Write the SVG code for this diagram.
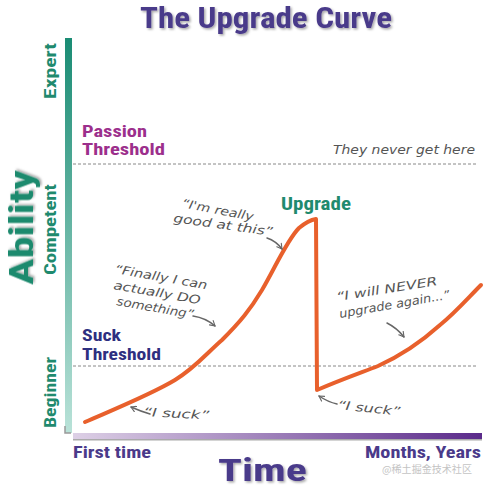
<svg xmlns="http://www.w3.org/2000/svg" width="486" height="488" viewBox="0 0 486 488">
<defs>
<linearGradient id="vbar" x1="0" y1="0" x2="0" y2="1">
<stop offset="0" stop-color="#1a8c74"/>
<stop offset="1" stop-color="#b9e2d8"/>
</linearGradient>
<linearGradient id="hbar" x1="0" y1="0" x2="1" y2="0">
<stop offset="0" stop-color="#ddd0e6"/>
<stop offset="1" stop-color="#5a2a8a"/>
</linearGradient>
<filter id="sh" x="-10%" y="-10%" width="120%" height="130%">
<feDropShadow dx="1.5" dy="1.5" stdDeviation="0.8" flood-color="#000" flood-opacity="0.35"/>
</filter>
<marker id="ah" viewBox="0 0 10 10" refX="8" refY="5" markerWidth="7" markerHeight="7" orient="auto" markerUnits="userSpaceOnUse">
<path d="M1,1 L8,5 L1,9" fill="none" stroke="#666" stroke-width="1.6" stroke-linecap="round" stroke-linejoin="round"/>
</marker>
<style>
.bold{font-family:"Liberation Sans Narrow","Roboto Condensed","Liberation Sans",Arial,sans-serif;font-weight:bold}
.teal{fill:#1f8a6e}
.purp{fill:#4a3a8a}
.hand{font-family:"DejaVu Sans","Liberation Sans",sans-serif;font-style:italic;font-size:12px;fill:#555}
.dash{stroke:#888;stroke-width:1;stroke-dasharray:3 2;fill:none}
.arr{stroke:#666;stroke-width:1.5;fill:none;stroke-linecap:round;marker-end:url(#ah)}
</style>
</defs>

<g id="title">
<text class="bold purp" x="140" y="28" font-size="30" textLength="252" lengthAdjust="spacingAndGlyphs" filter="url(#sh)">The Upgrade Curve</text>
</g>

<g id="axes">
<rect x="65" y="38" width="7" height="395" fill="url(#vbar)"/>
<path d="M65,426 L65,433 L71,433" fill="none" stroke="#999" stroke-width="1.5"/>
<rect x="73" y="433" width="409" height="6" fill="url(#hbar)"/>
<rect x="73" y="439" width="409" height="1.5" fill="#555" opacity="0.5"/>
</g>

<g id="y-labels">
<text class="bold teal" transform="translate(33,227.5) rotate(-90)" text-anchor="middle" font-size="34" textLength="115" lengthAdjust="spacingAndGlyphs" filter="url(#sh)">Ability</text>
<text class="bold teal" transform="translate(56,71) rotate(-90)" text-anchor="middle" font-size="17" textLength="56" lengthAdjust="spacingAndGlyphs">Expert</text>
<text class="bold teal" transform="translate(56,229.5) rotate(-90)" text-anchor="middle" font-size="17" textLength="91" lengthAdjust="spacingAndGlyphs">Competent</text>
<text class="bold teal" transform="translate(56,392.5) rotate(-90)" text-anchor="middle" font-size="17" textLength="71" lengthAdjust="spacingAndGlyphs">Beginner</text>
</g>

<g id="x-labels">
<text class="bold purp" x="73" y="458" font-size="17" textLength="78" lengthAdjust="spacingAndGlyphs">First time</text>
<text class="bold purp" x="365" y="458" font-size="17" textLength="116" lengthAdjust="spacingAndGlyphs">Months, Years</text>
<text class="bold purp" x="218" y="481" font-size="31" textLength="89" lengthAdjust="spacingAndGlyphs" filter="url(#sh)">Time</text>
</g>

<g id="passion-threshold">
<line class="dash" x1="73" y1="164" x2="478" y2="164"/>
<text class="bold" fill="#9c2f8c" x="82" y="137" font-size="17" textLength="65" lengthAdjust="spacingAndGlyphs">Passion</text>
<text class="bold" fill="#9c2f8c" x="82" y="155" font-size="17" textLength="83" lengthAdjust="spacingAndGlyphs">Threshold</text>
<text class="hand" x="333" y="154" textLength="142" lengthAdjust="spacingAndGlyphs">They never get here</text>
</g>

<g id="suck-threshold">
<line class="dash" x1="73" y1="366" x2="478" y2="366"/>
<text class="bold" fill="#2e2f80" x="82" y="341" font-size="17" textLength="39" lengthAdjust="spacingAndGlyphs">Suck</text>
<text class="bold" fill="#2e2f80" x="82" y="360" font-size="17" textLength="79" lengthAdjust="spacingAndGlyphs">Threshold</text>
</g>

<g id="curve">
<path d="M85,422 C110,411 150,395 175,380 C195,368 208,352 222,340 C240,322 250,310 262,290 C275,268 287,240 299,228 C305,223 310,220 316,219 L317,390 C340,380 360,373 378,366 C400,356 420,343 440,325 C455,313 468,298 481,285" fill="none" stroke="#e8602c" stroke-width="4" stroke-linejoin="round" stroke-linecap="round"/>
</g>

<g id="upgrade-label">
<text class="bold teal" x="281" y="210" font-size="18" textLength="70" lengthAdjust="spacingAndGlyphs">Upgrade</text>
</g>

<g id="connectors">
<path class="arr" d="M150,414 Q140,411 131,407"/>
<path class="arr" d="M337,404 Q328,402 319,396"/>
<path class="arr" d="M267,238 Q276,241 282,249"/>
<path class="arr" d="M193,316 Q206,318 215,326"/>
<path class="arr" d="M387,323 Q397,328 404,337"/>
</g>

<g id="annotations">
<text class="hand" transform="translate(181,207) rotate(11)" textLength="73" lengthAdjust="spacingAndGlyphs">“I'm really</text>
<text class="hand" transform="translate(173,222) rotate(8)" textLength="100" lengthAdjust="spacingAndGlyphs">good at this”</text>
<text class="hand" transform="translate(114,273) rotate(10)" textLength="94" lengthAdjust="spacingAndGlyphs">“Finally I can</text>
<text class="hand" transform="translate(113,289) rotate(10)" textLength="88" lengthAdjust="spacingAndGlyphs">actually DO</text>
<text class="hand" transform="translate(116,305) rotate(10)" textLength="78" lengthAdjust="spacingAndGlyphs">something”</text>
<text class="hand" transform="translate(143,416) rotate(3)" textLength="66" lengthAdjust="spacingAndGlyphs">“I suck”</text>
<text class="hand" transform="translate(337,409) rotate(6)" textLength="63" lengthAdjust="spacingAndGlyphs">“I suck”</text>
<text class="hand" transform="translate(337,301) rotate(-9)" textLength="102" lengthAdjust="spacingAndGlyphs">“I will NEVER</text>
<text class="hand" transform="translate(340,318) rotate(-10)" textLength="112" lengthAdjust="spacingAndGlyphs">upgrade again...”</text>
</g>

<g id="watermark">
<text x="382" y="473" font-family="'Noto Sans CJK SC',sans-serif" font-size="10" fill="#c4c4c4" textLength="90" lengthAdjust="spacingAndGlyphs">@稀土掘金技术社区</text>
</g>
</svg>
